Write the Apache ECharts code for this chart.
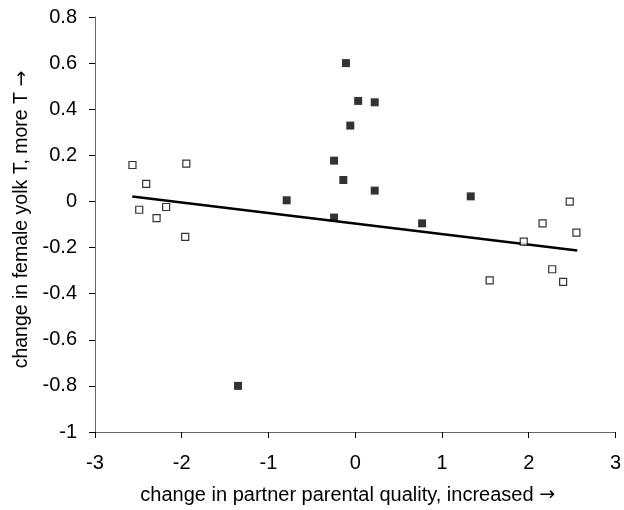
<!DOCTYPE html>
<html><head><meta charset="utf-8">
<script src="https://cdn.jsdelivr.net/npm/echarts@6/dist/echarts.min.js"></script>
<style>html,body{margin:0;padding:0;background:#fff}#c{width:624px;height:510px}</style>
</head><body><div id="c"></div>
<script>
// filled squares
var filledX = [-0.107, 0.034, -0.057, -0.244, -0.137, -0.79, -0.244, 0.225, 0.225, 0.771, 1.332, -1.351];
var filledY = [0.60, 0.436, 0.329, 0.177, 0.093, 0.005, -0.07, 0.43, 0.047, -0.095, 0.022, -0.80];
// open squares
var openX = [-2.568, -1.947, -2.41, -2.49, -2.18, -2.29, -1.96, 2.473, 2.16, 2.55, 1.943, 2.271, 1.55, 2.397];
var openY = [0.158, 0.164, 0.076, -0.036, -0.024, -0.072, -0.154, -0.001, -0.095, -0.135, -0.174, -0.294, -0.342, -0.349];
// trend line endpoints
var lineX = [-2.57, 2.56];
var lineY = [0.021, -0.213];
var xTicks = [-3, -2, -1, 0, 1, 2, 3];
var yTicks = [-1, -0.8, -0.6, -0.4, -0.2, 0, 0.2, 0.4, 0.6, 0.8];

function pairs(xs, ys){ return xs.map(function(x,i){ return [x, ys[i]]; }); }
var font = 'Liberation Sans, Arial, sans-serif';
var arrowRich = {a:{fontFamily:'DejaVu Sans', fontSize:19, color:'#000'}};
var chart = echarts.init(document.getElementById('c'), null, {renderer:'canvas'});
chart.setOption({
  animation:false,
  backgroundColor:'#fff',
  grid:{left:95, right:5, top:17, bottom:78, containLabel:false},
  xAxis:{type:'value', min:-3, max:3, interval:1,
    name:'change in partner parental quality, increased {a|\u2192}',
    nameLocation:'middle', nameGap:53,
    nameTextStyle:{fontFamily:font, fontSize:20, color:'#000', padding:[0,15,0,0], rich:arrowRich},
    axisLine:{show:true, onZero:false, lineStyle:{color:'#666', width:1}},
    axisTick:{show:true, inside:false, length:6, lineStyle:{color:'#000'}},
    axisLabel:{fontFamily:font, fontSize:20, color:'#000', margin:21,
      formatter:function(v){ return xTicks.indexOf(v)>=0 ? String(v) : ''; }},
    splitLine:{show:false}},
  yAxis:{type:'value', min:-1, max:0.8, interval:0.2,
    name:'change in female yolk T, more T {a|\u2192}',
    nameLocation:'middle', nameGap:62, nameRotate:90,
    nameTextStyle:{fontFamily:font, fontSize:19.5, color:'#000', padding:[0,0,0,10], rich:arrowRich},
    axisLine:{show:true, onZero:false, lineStyle:{color:'#666', width:1}},
    axisTick:{show:true, inside:false, length:6, lineStyle:{color:'#000'}},
    axisLabel:{fontFamily:font, fontSize:20, color:'#000', margin:18,
      formatter:function(v){ var r=Math.round(v*10)/10; return String(r); }},
    splitLine:{show:false}},
  series:[
    {type:'line', data:pairs(lineX, lineY), symbol:'none',
     lineStyle:{color:'#000', width:2.5}, z:1},
    {type:'scatter', data:pairs(openX, openY), symbol:'rect', symbolSize:7,
     itemStyle:{color:'#fff', borderColor:'#000', borderWidth:1.2}, z:3},
    {type:'scatter', data:pairs(filledX, filledY), symbol:'rect', symbolSize:8,
     itemStyle:{color:'#000'}, z:3}
  ]
});
</script></body></html>
